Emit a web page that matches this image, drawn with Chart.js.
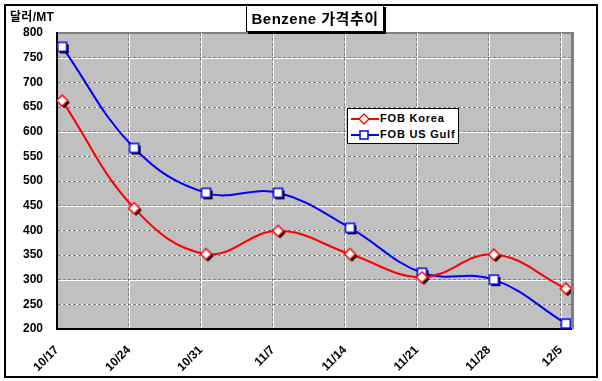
<!DOCTYPE html>
<html><head><meta charset="utf-8">
<script src="https://cdn.jsdelivr.net/npm/chart.js@4/dist/chart.umd.min.js"></script>
<style>
html,body{margin:0;padding:0;background:#fff;}
#wrap{position:relative;width:602px;height:381px;}
#c{position:absolute;left:0;top:0;}
#frame{position:absolute;left:4px;top:4px;width:590px;height:370px;border:2px solid #000;pointer-events:none;}
#title{position:absolute;left:246px;top:5px;width:136px;height:25px;border:1.5px solid #000;background:#fff;box-shadow:2px 2px 0 #000;
 font:bold 15px "Liberation Sans","Noto Sans CJK KR",sans-serif;text-align:center;line-height:25px;white-space:nowrap;letter-spacing:0.5px;}
#unit{position:absolute;left:10px;top:7px;font:bold 12px "Liberation Sans","Noto Sans CJK KR",sans-serif;letter-spacing:0.3px;}
#legend{position:absolute;left:347px;top:108px;width:110px;height:34px;border:1px solid #000;background:#fff;
 font:bold 11px "Liberation Sans",sans-serif;letter-spacing:0.8px;}
.row{position:absolute;left:2px;height:16px;line-height:16px;white-space:nowrap;}
.row svg{vertical-align:middle;}
</style></head>
<body><div id="wrap"><canvas id="c" width="602" height="381"></canvas>
<div id="unit">달러/MT</div>
<div id="title">Benzene 가격추이</div>
<div id="legend"></div>
<div id="frame"></div></div>
<script>
const categories = ['10/17','10/24','10/31','11/7','11/14','11/21','11/28','12/5'];
const fobKorea  = [663, 445, 352, 399, 352, 305, 351, 282];
const fobUSGulf = [772, 567, 476, 476, 405, 314, 300, 211];
const seriesNames = ['FOB Korea','FOB US Gulf'];
const yTicks = [200,250,300,350,400,450,500,550,600,650,700,750,800];
const DAYS_PER_CAT = 7, POINT_SHIFT = 0.5;

function markerImg(kind, color){
  const off=2, s=kind==='d'?11:9, size=s+off*2+2;
  const cv=document.createElement('canvas'); cv.width=size; cv.height=size;
  const g=cv.getContext('2d'); const c=size/2;
  function shape(dx,dy){
    g.beginPath();
    if(kind==='d'){const h=s/2;g.moveTo(c+dx,c-h+dy);g.lineTo(c+h+dx,c+dy);g.lineTo(c+dx,c+h+dy);g.lineTo(c-h+dx,c+dy);g.closePath();}
    else{const h=s/2;g.rect(c-h+dx,c-h+dy,s,s);}
  }
  shape(off,off); g.fillStyle='#000'; g.fill();
  shape(0,0); g.fillStyle='#fff'; g.fill(); g.lineWidth=1.5; g.strokeStyle=color; g.stroke();
  return cv;
}
const diamond = markerImg('d','#ff0000');
const square = markerImg('s','#0000ff');

const toPts = arr => arr.map((v,i)=>({x:i*DAYS_PER_CAT+POINT_SHIFT,y:v}));

const bgPlugin = {
  id:'bg',
  beforeDraw(chart){
    const {ctx, chartArea:a, scales} = chart;
    ctx.save();
    ctx.fillStyle='#808080';
    ctx.fillRect(a.left, a.top-1, a.right-a.left+3, a.bottom-a.top+1);
    ctx.fillStyle='#c0c0c0';
    ctx.fillRect(a.left, a.top+1, a.right-a.left, a.bottom-a.top-1);
    ctx.strokeStyle='#fff'; ctx.lineWidth=1;
    scales.y.ticks.forEach(t=>{ if(t.value>200 && t.value<800){const y=Math.round(scales.y.getPixelForValue(t.value))+0.5; ctx.beginPath();ctx.moveTo(a.left,y);ctx.lineTo(a.right,y);ctx.stroke();}});
    scales.x.ticks.forEach(t=>{ if(t.value>0){const x=Math.round(scales.x.getPixelForValue(t.value))+0.5; ctx.beginPath();ctx.moveTo(x,a.top);ctx.lineTo(x,a.bottom);ctx.stroke();}});
    ctx.restore();
  }
};

new Chart(document.getElementById('c'),{
  type:'line',
  data:{datasets:[
    {label:seriesNames[0],data:toPts(fobKorea),borderColor:'#ff0000',borderWidth:2,tension:0.4,pointStyle:diamond,pointRadius:6},
    {label:seriesNames[1],data:toPts(fobUSGulf),borderColor:'#0000ff',borderWidth:2,tension:0.4,pointStyle:square,pointRadius:6}
  ]},
  options:{
    responsive:false,animation:false,devicePixelRatio:1,
    layout:{padding:{left:0,right:31,top:33,bottom:0}},
    plugins:{legend:{display:false},tooltip:{enabled:false},title:{display:false}},
    scales:{
      x:{type:'linear',min:0,max:categories.length*DAYS_PER_CAT-6,
        afterBuildTicks:ax=>{ax.ticks=categories.map((c,i)=>({value:i*DAYS_PER_CAT}));},
        afterFit:ax=>{ax.height=52;},
        grid:{color:'#808080',drawTicks:false,lineWidth:1},
        border:{display:true,color:'#000',width:2,dash:[3,2]},
        ticks:{autoSkip:false,maxRotation:45,minRotation:45,padding:14,color:'#000',
          font:{family:'"Liberation Sans",sans-serif',size:12,weight:'bold'},
          callback:v=>categories[Math.round(v/DAYS_PER_CAT)]}
      },
      y:{min:200,max:800,
        afterBuildTicks:ax=>{ax.ticks=yTicks.map(v=>({value:v}));},
        afterFit:ax=>{ax.width=57;},
        grid:{color:'#808080',drawTicks:false,lineWidth:1},
        border:{display:true,color:'#000',width:2,dash:[3,2]},
        ticks:{padding:14,color:'#000',font:{family:'"Liberation Sans",sans-serif',size:12,weight:'bold'}}
      }
    }
  },
  plugins:[bgPlugin]
});

// legend (HTML)
const lg=document.getElementById('legend');
[[seriesNames[0],'#ff0000','d'],[seriesNames[1],'#0000ff','s']].forEach((e,i)=>{
  const r=document.createElement('div'); r.className='row'; r.style.top=(i*16+1)+'px';
  const mk = e[2]==='d' ? '<polygon points="14,2 19,7 14,12 9,7" fill="#fff" stroke="'+e[1]+'" stroke-width="1.3"/>'
                        : '<rect x="10" y="3" width="8" height="8" fill="#fff" stroke="'+e[1]+'" stroke-width="1.5"/>';
  r.innerHTML='<svg width="30" height="14"><line x1="1" y1="7" x2="29" y2="7" stroke="'+e[1]+'" stroke-width="2"/>'+mk+'</svg>'+e[0];
  lg.appendChild(r);
});
</script></body></html>
